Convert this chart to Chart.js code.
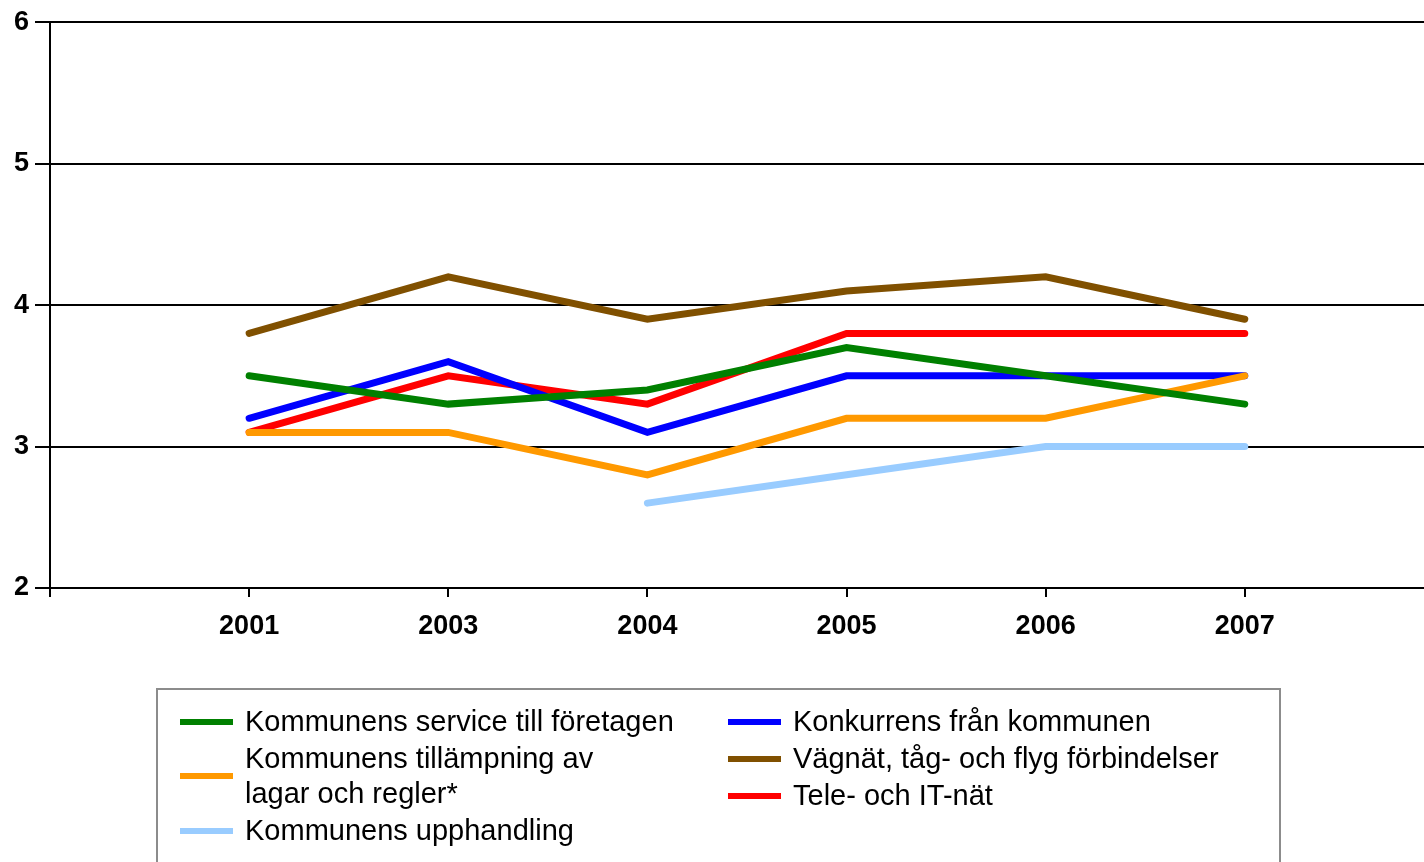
<!DOCTYPE html>
<html>
<head>
<meta charset="utf-8">
<script src="https://cdn.jsdelivr.net/npm/chart.js@4/dist/chart.umd.min.js"></script>
<style>
	html, body { margin: 0; padding: 0; background: #fff; overflow: hidden; }
	#wrap { position: relative; width: 1424px; height: 862px; }
	#legend {
		position: absolute; left: 156px; top: 688px; width: 1125px; height: 190px;
		border: 2px solid #8c8c8c; box-sizing: border-box;
		font-family: "Liberation Sans", Arial, sans-serif; font-size: 29px; color: #000;
	}
	.col { position: absolute; top: 14px; }
	.item { display: flex; align-items: center; margin-bottom: 2px; }
	.swatch { width: 53px; height: 6px; margin-right: 12px; flex: none; }
	.txt { line-height: 35px; white-space: pre-line; }
</style>
</head>
<body>
<div id="wrap">
	<canvas id="chart" width="1424" height="862"></canvas>
	<div id="legend"></div>
</div>
<script>
(function () {
	'use strict';

	const years = ['2001', '2003', '2004', '2005', '2006', '2007'];

	const seriesNames = [
		'Kommunens service till företagen',
		'Kommunens tillämpning av\nlagar och regler*',
		'Kommunens upphandling',
		'Konkurrens från kommunen',
		'Vägnät, tåg- och flyg förbindelser',
		'Tele- och IT-nät'
	];
	const seriesColors = ['#008000', '#ff9900', '#99ccff', '#0000ff', '#805000', '#ff0000'];

	const service = [3.5, 3.3, 3.4, 3.7, 3.5, 3.3];
	const tillampning = [3.1, 3.1, 2.8, 3.2, 3.2, 3.5];
	const upphandling = [null, null, 2.6, 2.8, 3.0, 3.0];
	const konkurrens = [3.2, 3.6, 3.1, 3.5, 3.5, 3.5];
	const vagnat = [3.8, 4.2, 3.9, 4.1, 4.2, 3.9];
	const teleIt = [3.1, 3.5, 3.3, 3.8, 3.8, 3.8];

	const seriesValues = [service, tillampning, upphandling, konkurrens, vagnat, teleIt];

	const toPoints = vals => vals.map((v, i) => ({ x: i + 1, y: v }));

	const datasets = seriesValues.map((vals, i) => ({
		label: seriesNames[i],
		data: toPoints(vals),
		borderColor: seriesColors[i],
		backgroundColor: seriesColors[i],
		borderWidth: 7,
		borderCapStyle: 'round',
		pointRadius: 0,
		tension: 0,
		spanGaps: false
	}));

	const tickFont = { family: '"Liberation Sans", Arial, sans-serif', size: 27, weight: 'bold' };

	new Chart(document.getElementById('chart'), {
		type: 'line',
		data: { datasets },
		options: {
			responsive: false,
			animation: false,
			layout: { padding: { top: 22, right: 0, left: 0, bottom: 0 } },
			plugins: { legend: { display: false }, tooltip: { enabled: false } },
			scales: {
				x: {
					type: 'linear',
					min: 0,
					max: 6.9,
					afterBuildTicks: s => { s.ticks = s.ticks.filter(t => Number.isInteger(t.value)); },
					afterFit: s => { s.height = 862 - 588; },
					ticks: {
						stepSize: 1,
						color: '#000',
						font: tickFont,
						padding: 13,
						maxRotation: 0,
						autoSkip: false,
						callback: v => years[v - 1] || ''
					},
					grid: { drawOnChartArea: false, drawTicks: true, tickLength: 9, color: '#000', lineWidth: 2 },
					border: { color: '#000', width: 2 }
				},
				y: {
					min: 2,
					max: 6,
					afterFit: s => { s.width = 50; },
					ticks: { stepSize: 1, color: '#000', font: tickFont, padding: 6 },
					grid: { color: '#000', lineWidth: 2, tickLength: 15 },
					border: { color: '#000', width: 2 }
				}
			}
		}
	});

	// legend: two columns, series in column order
	const legend = document.getElementById('legend');
	const cols = [{ left: 22, idx: [0, 1, 2] }, { left: 570, idx: [3, 4, 5] }];
	for (const c of cols) {
		const col = document.createElement('div');
		col.className = 'col';
		col.style.left = c.left + 'px';
		for (const i of c.idx) {
			const item = document.createElement('div');
			item.className = 'item';
			const sw = document.createElement('div');
			sw.className = 'swatch';
			sw.style.background = seriesColors[i];
			const tx = document.createElement('div');
			tx.className = 'txt';
			tx.textContent = seriesNames[i];
			item.appendChild(sw);
			item.appendChild(tx);
			col.appendChild(item);
		}
		legend.appendChild(col);
	}
})();
</script>
</body>
</html>
